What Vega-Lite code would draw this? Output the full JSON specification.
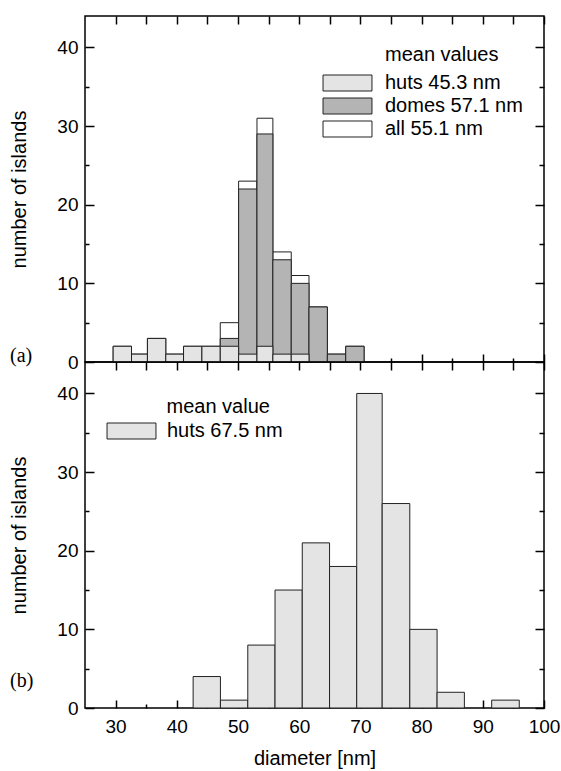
{
  "$schema": "https://vega.github.io/schema/vega-lite/v6.json",
  "background": "white",
  "padding": {"left": 9, "top": 14, "right": 5, "bottom": 5},
  "spacing": 0,
  "bounds": "flush",
  "config": {
    "view": {"stroke": "black", "strokeWidth": 1.5},
    "font": "Liberation Sans",
    "axis": {
      "domain": false, "grid": false, "tickColor": "black", "tickWidth": 1.5,
      "labelColor": "black", "labelFont": "Liberation Sans", "labelFontSize": 19,
      "titleFont": "Liberation Sans", "titleFontSize": 20, "titleFontWeight": "normal", "titleColor": "black",
      "labelFlush": false, "labelOverlap": false, "zindex": 1
    }
  },
  "datasets": {
    "a": [
      {"series": "all 55.1 nm", "lo": 29.6, "hi": 32.6, "n": 2},
      {"series": "all 55.1 nm", "lo": 32.6, "hi": 35.2, "n": 1},
      {"series": "all 55.1 nm", "lo": 35.2, "hi": 38.2, "n": 3},
      {"series": "all 55.1 nm", "lo": 38.2, "hi": 41.1, "n": 1},
      {"series": "all 55.1 nm", "lo": 41.1, "hi": 44.1, "n": 2},
      {"series": "all 55.1 nm", "lo": 44.1, "hi": 47.1, "n": 2},
      {"series": "all 55.1 nm", "lo": 47.1, "hi": 50.1, "n": 5},
      {"series": "all 55.1 nm", "lo": 50.1, "hi": 53.1, "n": 23},
      {"series": "all 55.1 nm", "lo": 53.1, "hi": 55.7, "n": 31},
      {"series": "all 55.1 nm", "lo": 55.7, "hi": 58.7, "n": 14},
      {"series": "all 55.1 nm", "lo": 58.7, "hi": 61.6, "n": 11},
      {"series": "all 55.1 nm", "lo": 61.6, "hi": 64.6, "n": 7},
      {"series": "all 55.1 nm", "lo": 64.6, "hi": 67.6, "n": 1},
      {"series": "all 55.1 nm", "lo": 67.6, "hi": 70.6, "n": 2},
      {"series": "domes 57.1 nm", "lo": 47.1, "hi": 50.1, "n": 3},
      {"series": "domes 57.1 nm", "lo": 50.1, "hi": 53.1, "n": 22},
      {"series": "domes 57.1 nm", "lo": 53.1, "hi": 55.7, "n": 29},
      {"series": "domes 57.1 nm", "lo": 55.7, "hi": 58.7, "n": 13},
      {"series": "domes 57.1 nm", "lo": 58.7, "hi": 61.6, "n": 10},
      {"series": "domes 57.1 nm", "lo": 61.6, "hi": 64.6, "n": 7},
      {"series": "domes 57.1 nm", "lo": 64.6, "hi": 67.6, "n": 1},
      {"series": "domes 57.1 nm", "lo": 67.6, "hi": 70.6, "n": 2},
      {"series": "huts 45.3 nm", "lo": 29.6, "hi": 32.6, "n": 2},
      {"series": "huts 45.3 nm", "lo": 32.6, "hi": 35.2, "n": 1},
      {"series": "huts 45.3 nm", "lo": 35.2, "hi": 38.2, "n": 3},
      {"series": "huts 45.3 nm", "lo": 38.2, "hi": 41.1, "n": 1},
      {"series": "huts 45.3 nm", "lo": 41.1, "hi": 44.1, "n": 2},
      {"series": "huts 45.3 nm", "lo": 44.1, "hi": 47.1, "n": 2},
      {"series": "huts 45.3 nm", "lo": 47.1, "hi": 50.1, "n": 2},
      {"series": "huts 45.3 nm", "lo": 50.1, "hi": 53.1, "n": 1},
      {"series": "huts 45.3 nm", "lo": 53.1, "hi": 55.7, "n": 2},
      {"series": "huts 45.3 nm", "lo": 55.7, "hi": 58.7, "n": 1},
      {"series": "huts 45.3 nm", "lo": 58.7, "hi": 61.6, "n": 1}
    ],
    "b": [
      {"series": "huts 67.5 nm", "lo": 42.67, "hi": 47.13, "n": 4},
      {"series": "huts 67.5 nm", "lo": 47.13, "hi": 51.6, "n": 1},
      {"series": "huts 67.5 nm", "lo": 51.6, "hi": 56.05, "n": 8},
      {"series": "huts 67.5 nm", "lo": 56.05, "hi": 60.5, "n": 15},
      {"series": "huts 67.5 nm", "lo": 60.5, "hi": 64.96, "n": 21},
      {"series": "huts 67.5 nm", "lo": 64.96, "hi": 69.4, "n": 18},
      {"series": "huts 67.5 nm", "lo": 69.4, "hi": 73.56, "n": 40},
      {"series": "huts 67.5 nm", "lo": 73.56, "hi": 78.07, "n": 26},
      {"series": "huts 67.5 nm", "lo": 78.07, "hi": 82.53, "n": 10},
      {"series": "huts 67.5 nm", "lo": 82.53, "hi": 86.99, "n": 2},
      {"series": "huts 67.5 nm", "lo": 91.45, "hi": 95.96, "n": 1}
    ]
  },
  "vconcat": [
    {
      "width": 459, "height": 346,
      "title": {"text": "(a)", "orient": "bottom", "anchor": "start", "frame": "group", "font": "Liberation Serif", "fontSize": 20, "fontWeight": "normal", "color": "black", "offset": 0, "dx": -75, "dy": -10, "baseline": "alphabetic", "align": "left"},
      "data": {"name": "a"},
      "layer": [
        {
          "mark": {"type": "bar", "stroke": "#222", "strokeWidth": 1},
          "encoding": {
            "x": {"field": "lo", "type": "quantitative", "scale": {"domain": [25, 100], "nice": false, "zero": false},
              "axis": {"orient": "bottom", "values": [30,40,50,60,70,80,90,100], "labels": false, "title": null, "tickSize": -8}},
            "x2": {"field": "hi"},
            "y": {"field": "n", "type": "quantitative", "stack": null, "scale": {"domain": [0, 44], "nice": false},
              "axis": {"orient": "left", "values": [0,10,20,30,40], "labelPadding": 16, "title": "number of islands", "titlePadding": 27, "tickSize": -9}},
            "y2": {"datum": 0},
            "color": {"field": "series", "type": "nominal",
              "scale": {"domain": ["huts 45.3 nm", "domes 57.1 nm", "all 55.1 nm"], "range": ["#e4e4e4", "#b4b4b4", "#ffffff"]},
              "legend": {"orient": "none", "legendX": 252.5, "legendY": 29, "title": "mean values",
                "titleFont": "Liberation Sans", "titleFontSize": 20, "titleFontWeight": "normal", "titleColor": "black", "titlePadding": 8,
                "labelFont": "Liberation Sans", "labelFontSize": 20, "labelColor": "black", "labelOffset": 27.5, "labelLimit": 300,
                "symbolType": "M-3.06,-1H3.06V1H-3.06Z", "symbolSize": 256, "symbolStrokeColor": "#222", "symbolStrokeWidth": 1, "symbolOpacity": 1,
                "rowPadding": 3,
                "encode": {"title": {"update": {"dx": {"value": 47.5}}}}}}
          }
        },
        {
          "mark": {"type": "bar", "opacity": 0},
          "encoding": {
            "x": {"field": "lo", "type": "quantitative", "scale": {"domain": [25, 100], "nice": false, "zero": false},
              "axis": {"orient": "top", "values": [30,40,50,60,70,80,90,100], "labels": false, "title": null, "tickSize": -8}},
            "x2": {"field": "hi"},
            "y": {"field": "n", "type": "quantitative", "stack": null, "scale": {"domain": [0, 44], "nice": false},
              "axis": {"orient": "right", "values": [0,10,20,30,40], "labels": false, "title": null, "tickSize": -9}},
            "y2": {"datum": 0}
          }
        },
        {
          "mark": {"type": "bar", "opacity": 0},
          "encoding": {
            "x": {"field": "lo", "type": "quantitative", "scale": {"domain": [25, 100], "nice": false, "zero": false},
              "axis": {"orient": "bottom", "values": [35,45,55,65,75,85,95], "labels": false, "title": null, "tickSize": -4}},
            "x2": {"field": "hi"},
            "y": {"field": "n", "type": "quantitative", "stack": null, "scale": {"domain": [0, 44], "nice": false},
              "axis": {"orient": "left", "values": [5,15,25,35], "labels": false, "title": null, "tickSize": -4}},
            "y2": {"datum": 0}
          }
        },
        {
          "mark": {"type": "bar", "opacity": 0},
          "encoding": {
            "x": {"field": "lo", "type": "quantitative", "scale": {"domain": [25, 100], "nice": false, "zero": false},
              "axis": {"orient": "top", "values": [35,45,55,65,75,85,95], "labels": false, "title": null, "tickSize": -8}},
            "x2": {"field": "hi"},
            "y": {"field": "n", "type": "quantitative", "stack": null, "scale": {"domain": [0, 44], "nice": false},
              "axis": {"orient": "right", "values": [5,15,25,35], "labels": false, "title": null, "tickSize": -5}},
            "y2": {"datum": 0}
          }
        }
      ],
      "resolve": {"axis": {"x": "independent", "y": "independent"}}
    },
    {
      "width": 459, "height": 346,
      "title": {"text": "(b)", "orient": "bottom", "anchor": "start", "frame": "group", "font": "Liberation Serif", "fontSize": 20, "fontWeight": "normal", "color": "black", "offset": 0, "dx": -75, "dy": -82, "baseline": "alphabetic", "align": "left"},
      "data": {"name": "b"},
      "layer": [
        {
          "mark": {"type": "bar", "stroke": "#222", "strokeWidth": 1},
          "encoding": {
            "x": {"field": "lo", "type": "quantitative", "scale": {"domain": [25, 100], "nice": false, "zero": false},
              "axis": {"orient": "bottom", "values": [30,40,50,60,70,80,90,100], "labelPadding": 17.5, "title": "diameter [nm]", "titlePadding": 12, "tickSize": -8}},
            "x2": {"field": "hi"},
            "y": {"field": "n", "type": "quantitative", "stack": null, "scale": {"domain": [0, 44], "nice": false},
              "axis": {"orient": "left", "values": [0,10,20,30,40], "labelPadding": 16, "title": "number of islands", "titlePadding": 27, "tickSize": -9}},
            "y2": {"datum": 0},
            "color": {"field": "series", "type": "nominal",
              "scale": {"domain": ["huts 67.5 nm"], "range": ["#e4e4e4"]},
              "legend": {"orient": "none", "legendX": 36.5, "legendY": 35, "title": "mean value",
                "titleFont": "Liberation Sans", "titleFontSize": 20, "titleFontWeight": "normal", "titleColor": "black", "titlePadding": 4,
                "labelFont": "Liberation Sans", "labelFontSize": 20, "labelColor": "black", "labelOffset": 25.5, "labelLimit": 300,
                "symbolType": "M-3.06,-1H3.06V1H-3.06Z", "symbolSize": 256, "symbolStrokeColor": "#222", "symbolStrokeWidth": 1, "symbolOpacity": 1,
                "rowPadding": 3,
                "encode": {"title": {"update": {"dx": {"value": 45}}}}}}
          }
        },
        {
          "mark": {"type": "bar", "opacity": 0},
          "encoding": {
            "x": {"field": "lo", "type": "quantitative", "scale": {"domain": [25, 100], "nice": false, "zero": false},
              "axis": {"orient": "top", "values": [30,40,50,60,70,80,90,100], "labels": false, "title": null, "tickSize": -8}},
            "x2": {"field": "hi"},
            "y": {"field": "n", "type": "quantitative", "stack": null, "scale": {"domain": [0, 44], "nice": false},
              "axis": {"orient": "right", "values": [0,10,20,30,40], "labels": false, "title": null, "tickSize": -9}},
            "y2": {"datum": 0}
          }
        },
        {
          "mark": {"type": "bar", "opacity": 0},
          "encoding": {
            "x": {"field": "lo", "type": "quantitative", "scale": {"domain": [25, 100], "nice": false, "zero": false},
              "axis": {"orient": "bottom", "values": [35,45,55,65,75,85,95], "labels": false, "title": null, "tickSize": -4}},
            "x2": {"field": "hi"},
            "y": {"field": "n", "type": "quantitative", "stack": null, "scale": {"domain": [0, 44], "nice": false},
              "axis": {"orient": "left", "values": [5,15,25,35], "labels": false, "title": null, "tickSize": -4}},
            "y2": {"datum": 0}
          }
        },
        {
          "mark": {"type": "bar", "opacity": 0},
          "encoding": {
            "x": {"field": "lo", "type": "quantitative", "scale": {"domain": [25, 100], "nice": false, "zero": false},
              "axis": {"orient": "top", "values": [35,45,55,65,75,85,95], "labels": false, "title": null, "tickSize": -8}},
            "x2": {"field": "hi"},
            "y": {"field": "n", "type": "quantitative", "stack": null, "scale": {"domain": [0, 44], "nice": false},
              "axis": {"orient": "right", "values": [5,15,25,35], "labels": false, "title": null, "tickSize": -5}},
            "y2": {"datum": 0}
          }
        }
      ],
      "resolve": {"axis": {"x": "independent", "y": "independent"}}
    }
  ],
  "resolve": {"scale": {"color": "independent"}, "legend": {"color": "independent"}}
}
